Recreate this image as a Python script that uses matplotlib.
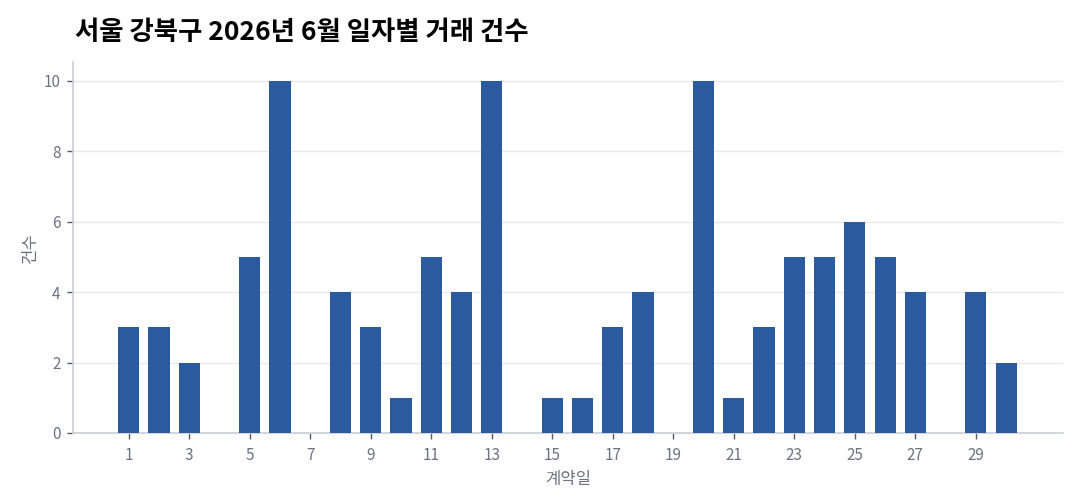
import numpy as np
import matplotlib
matplotlib.use("Agg")
import matplotlib.pyplot as plt

plt.rcParams['font.family'] = ['Noto Sans CJK KR', 'DejaVu Sans']

title = "서울 강북구 2026년 6월 일자별 거래 건수"
days = list(range(1, 31))
counts = [3, 3, 2, 0, 5, 10, 0, 4, 3, 1,
          5, 4, 10, 0, 1, 1, 3, 4, 0, 10,
          1, 3, 5, 5, 6, 5, 4, 0, 4, 2]
xticks = list(range(1, 30, 2))
yticks = [0, 2, 4, 6, 8, 10]

bar_color = '#2c5aa0'
tick_color = '#6b7280'
spine_color = '#c9ced6'

fig = plt.figure(figsize=(10.8, 5.04), dpi=100)
ax = fig.add_axes([0.0676, 0.141, 0.9164, 0.736])

ax.bar(days, counts, width=0.7, color=bar_color, zorder=3)

ax.set_xlim(-0.84, 31.87)
ax.set_ylim(0, 10.54)
ax.set_xticks(xticks)
ax.set_yticks(yticks)
ax.grid(axis='y', color='#e8eaee', linewidth=1, zorder=0)

for s in ['top', 'right']:
    ax.spines[s].set_visible(False)
for s in ['left', 'bottom']:
    ax.spines[s].set_color(spine_color)
    ax.spines[s].set_linewidth(1.2)

ax.tick_params(axis='x', colors='#555b66', labelcolor=tick_color,
               labelsize=11, length=4, width=1, pad=6)
ax.tick_params(axis='y', colors='#555b66', labelcolor=tick_color,
               labelsize=11, length=4, width=1, pad=5)

ax.set_xlabel("계약일", color=tick_color, fontsize=12, labelpad=5)
ax.set_ylabel("건수", color=tick_color, fontsize=12, labelpad=3)

fig.text(0.0695, 0.935, title, fontsize=19, fontweight='bold', color='black',
         ha='left', va='center')

fig.savefig("out.png", dpi=100)
